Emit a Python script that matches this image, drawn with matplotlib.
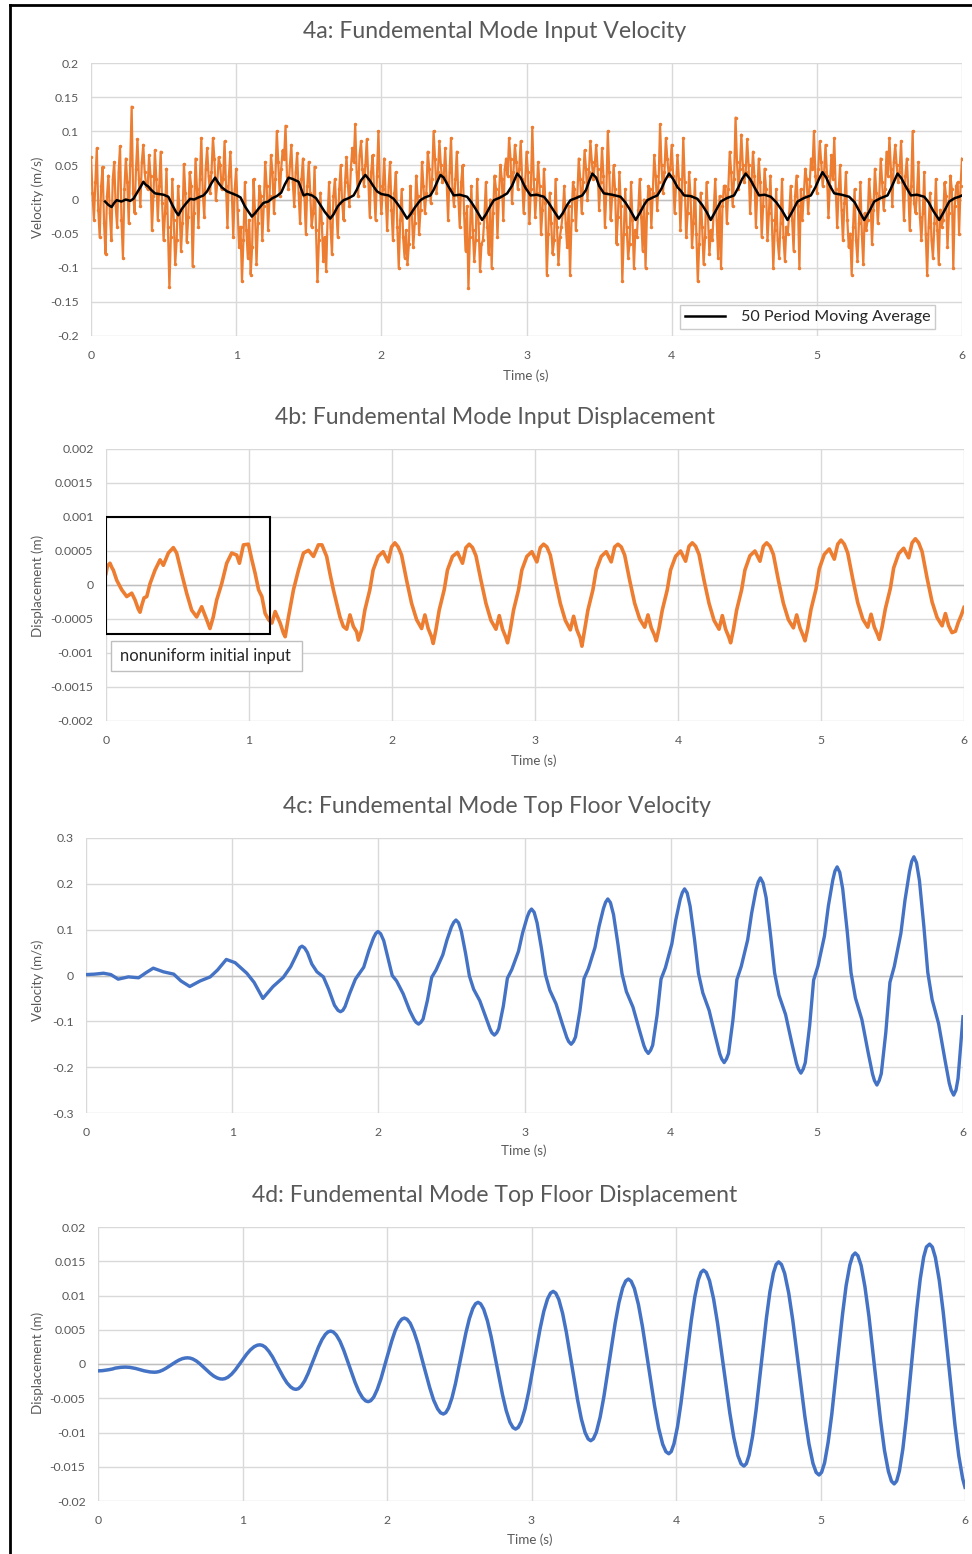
import numpy as np
import matplotlib
matplotlib.use("Agg")
import matplotlib.pyplot as plt
from matplotlib.lines import Line2D
from matplotlib.patches import Rectangle

plt.rcParams['font.family'] = ['Lato', 'DejaVu Sans']
plt.rcParams['axes.unicode_minus'] = False

ORANGE = '#ED7D31'
BLUE = '#4472C4'
GRID = '#D9D9D9'
ZERO = '#BFBFBF'
TEXT = '#595959'

# ---------------- 4a: input velocity (mm/s) ----------------
# Samples every 0.01 s, stored as two interleaved streams:
# the "even" stream at t = 0.00, 0.02, ... and the "odd" stream at t = 0.01, 0.03, ...
input_vel_dt = 0.01
input_vel_even_mm_s = [
    62, -30, 75, -55, 48, -80, 35, -60, 55, -40, 78, -85, 60, -35, 136, -20, 88, -10, 80, 20, 65, -45, 72, -30, 70,
    -60, 45, -128, 30, -95, 20, -75, 52, -62, 40, -98, 60, -40, 90, -25, 75, 10, 90, 0, 62, 15, 85, -40, 70, -55,
    45, -70, -120, 25, -85, -110, 30, -95, 20, -60, 55, -45, 65, -20, 100, 5, 72, 108, 15, 80, -10, 68, -35, 60, -50,
    55, -40, 48, -120, 10, -90, -105, 25, -80, 30, -55, 50, -30, 62, -10, 75, 110, 5, 85, 20, 88, -25, 65, -30, 100,
    -20, 60, -45, 55, -60, 40, -100, 15, -85, -95, 20, -70, 35, -50, 55, -20, 70, -5, 100, 10, 85, 25, 75, -30, 90,
    -10, 70, -40, 50, -75, -130, 20, -90, 30, -105, -60, 25, -80, -100, 35, -55, 50, -30, 60, 90, -5, 80, 15, 85, -20,
    70, -35, 106, -25, 55, -50, 45, -110, 10, -80, 30, -95, -40, 20, -70, -110, 25, -45, 60, -20, 72, 0, 85, 30, 80,
    -15, 75, -40, 100, -30, 50, -65, 40, -120, 15, -85, 25, -100, -55, 30, -75, -100, 20, -40, 65, -15, 110, 10, 90, 35,
    80, -20, 65, -45, 90, -55, 40, -70, 30, -120, 10, -95, 25, -80, -60, 30, -85, -100, 20, -35, 70, -10, 120, 15, 95,
    25, 88, -20, 70, -40, 60, -55, 45, -60, 35, -100, 15, -85, 30, -90, -50, 20, -75, 35, -100, -30, 45, -20, 60, 100,
    10, 85, 20, 80, -25, 65, 90, -40, 50, -60, 40, -70, -110, 15, -90, 25, -95, -45, 30, -65, 45, -35, 60, -15, 70,
    90, -10, 80, 25, 85, -30, 60, -45, 100, -20, 55, -60, 40, -110, 10, -85, 30, -95, -40, 25, -70, 35, -100, 20, -50,
    60,
]
input_vel_odd_mm_s = [
    10, 25, -15, 20, -35, 5, -20, 30, -10, 40, -30, 15, 25, 50, 10, 45, 30, 55, 40, 15, 35, 5, 30, 20, -5,
    -20, -40, -55, -30, -60, -15, -35, 10, -25, 20, -20, 15, 30, 10, 45, 35, 40, 60, 25, 50, 30, 20, 35, 10, 15,
    -15, -40, -60, -45, -30, -70, -20, -35, 5, -10, 20, 5, 40, 30, 55, 45, 60, 35, 50, 25, 40, 10, 30, 5, 20,
    10, -20, -45, -60, -35, -55, -25, -40, 5, -15, 15, -5, 25, 20, 45, 55, 40, 65, 45, 50, 30, 40, 15, 35, 20,
    15, 5, 20, -15, 10, -40, -30, -55, -45, -65, -20, -35, 5, -15, 20, 10, 45, 30, 60, 40, 50, 35, 25, 40, 15,
    30, 5, 25, -20, -10, -55, -45, -60, -35, -65, -25, -40, 0, -20, 15, 5, 30, 45, 35, 60, 40, 55, 45, 30, 20,
    40, 15, 30, 10, 20, -15, -5, -50, -35, -60, -40, -55, -20, -35, -10, -30, 15, 5, 30, 25, 45, 40, 55, 50, 45,
    25, 35, 10, 40, 5, 15, -25, -10, -50, -40, -65, -30, -45, -15, -25, 0, -20, 15, 10, 35, 25, 50, 40, 60, 45,
    35, 20, 30, 10, 25, -20, 5, -35, -50, -65, -40, -55, -25, -45, -15, -30, 5, -10, 20, 15, 40, 30, 55, 45, 50,
    40, 50, 25, 35, 10, 25, -10, 15, -20, -30, -45, -60, -35, -55, -40, -20, -30, 5, -10, 15, 5, 30, 20, 45, 35,
    45, 55, 40, 35, 20, 30, 15, 10, -15, -5, -30, -50, -40, -60, -35, -50, -20, -30, 0, -15, 10, 5, 25, 15, 35,
    45, 55, 50, 40, 25, 35, 15, 20, -5, 10, -25, -20, -50, -40, -60, -35, -45, -15, -30, 5, -20, 15, -10, 25, 20,
]

# 50 period moving average of the input velocity (s, mm/s)
ma_time = [
    0.097, 0.12, 0.142, 0.16, 0.177, 0.21, 0.24, 0.27, 0.292, 0.315, 0.34, 0.361, 0.375, 0.395, 0.415, 0.441,
    0.47, 0.50, 0.533, 0.56, 0.585, 0.602, 0.625, 0.65, 0.683, 0.71, 0.74, 0.775, 0.80, 0.83, 0.855, 0.875,
    0.90, 0.936, 0.97, 1.005, 1.03, 1.06, 1.085, 1.108, 1.13, 1.16, 1.188, 1.22, 1.25, 1.28, 1.31, 1.335,
    1.361, 1.39, 1.41, 1.43, 1.45, 1.464, 1.49, 1.522, 1.55, 1.58, 1.61, 1.648, 1.67, 1.70, 1.72, 1.74,
    1.775, 1.809, 1.83, 1.86, 1.89, 1.92, 1.95, 1.97, 2.00, 2.05, 2.085, 2.11, 2.14, 2.177, 2.20, 2.23,
    2.269, 2.30, 2.338, 2.36, 2.385, 2.407, 2.43, 2.46, 2.499, 2.54, 2.591, 2.62, 2.65, 2.694, 2.72, 2.75,
    2.775, 2.82, 2.867, 2.90, 2.936, 2.96, 2.99, 3.028, 3.07, 3.12, 3.15, 3.18, 3.223, 3.25, 3.28, 3.303,
    3.34, 3.384, 3.41, 3.43, 3.453, 3.48, 3.50, 3.533, 3.59, 3.648, 3.68, 3.71, 3.752, 3.78, 3.81, 3.832,
    3.87, 3.901, 3.93, 3.955, 3.982, 4.01, 4.04, 4.062, 4.085, 4.13, 4.177, 4.21, 4.24, 4.269, 4.30, 4.338,
    4.38, 4.43, 4.46, 4.485, 4.51, 4.54, 4.57, 4.602, 4.64, 4.683, 4.72, 4.76, 4.798, 4.83, 4.867, 4.91,
    4.959, 4.99, 5.015, 5.039, 5.065, 5.09, 5.12, 5.17, 5.223, 5.26, 5.29, 5.326, 5.36, 5.395, 5.44, 5.487,
    5.51, 5.535, 5.556, 5.58, 5.61, 5.648, 5.69, 5.74, 5.77, 5.80, 5.843, 5.875, 5.912, 5.95, 5.98, 6.0,
]
ma_vel_mm_s = [
    -3, -8, -11, -5, -1, -3, 0, -2, 1, 9, 18, 26, 22, 19, 14, 9,
    8, 7, 4, -8, -18, -23, -14, -7, 1, 0, 3, 6, 12, 24, 32, 25,
    18, 12, 9, 6, 3, -10, -18, -25, -20, -12, -5, -3, 2, 5, 10, 22,
    32, 30, 28, 26, 14, 6, 8, 6, 2, -8, -18, -28, -22, -10, -5, -1,
    2, 6, 14, 28, 36, 28, 18, 12, 8, 6, 1, -6, -15, -28, -22, -12,
    -1, 3, 6, 14, 26, 36, 32, 20, 6, 7, 4, -4, -14, -30, -22, -10,
    -1, 3, 9, 20, 38, 32, 18, 6, 7, 4, -4, -14, -28, -20, -8, -1,
    2, 6, 14, 26, 38, 32, 20, 9, 7, 4, -4, -14, -30, -20, -8, -1,
    3, 6, 16, 28, 38, 30, 18, 13, 6, 5, 1, -8, -18, -30, -18, -3,
    2, 6, 18, 30, 38, 30, 18, 6, 7, 4, -4, -16, -30, -18, -3, 2,
    6, 18, 30, 40, 32, 20, 9, 7, 4, -4, -16, -30, -18, -3, 2, 6,
    16, 28, 38, 32, 20, 6, 7, 4, -4, -16, -30, -18, -3, 2, 4, 6,
]

# ---------------- 4b: input displacement (s, mm) ----------------
input_disp_time = [
    0.000, 0.010, 0.028, 0.040, 0.051, 0.075, 0.110, 0.145, 0.180, 0.203, 0.225, 0.238, 0.250, 0.266, 0.285,
    0.308, 0.343, 0.378, 0.401, 0.436, 0.471, 0.494, 0.529, 0.564, 0.599, 0.634, 0.669, 0.704, 0.727, 0.750,
    0.774, 0.809, 0.844, 0.879, 0.914, 0.933, 0.961, 0.996, 1.020, 1.043, 1.067, 1.090, 1.113, 1.137, 1.160,
    1.183, 1.218, 1.241, 1.253, 1.276, 1.311, 1.346, 1.381, 1.416, 1.451, 1.485, 1.510, 1.543, 1.566, 1.590,
    1.613, 1.636, 1.660, 1.683, 1.706, 1.730, 1.753, 1.765, 1.788,
    1.810, 1.845, 1.868, 1.903, 1.938, 1.973, 1.997, 2.020, 2.043, 2.067, 2.102, 2.137, 2.172, 2.207, 2.230,
    2.253, 2.276, 2.288,
    2.307, 2.330, 2.365, 2.388, 2.423, 2.458, 2.493, 2.517, 2.540, 2.563, 2.587, 2.622, 2.657, 2.692, 2.727,
    2.750, 2.773, 2.796, 2.808,
    2.827, 2.850, 2.885, 2.908, 2.943, 2.978, 3.013, 3.037, 3.060, 3.083, 3.107, 3.142, 3.177, 3.212, 3.247,
    3.270, 3.293, 3.316, 3.328,
    3.347, 3.370, 3.405, 3.428, 3.463, 3.498, 3.533, 3.557, 3.580, 3.603, 3.627, 3.662, 3.697, 3.732, 3.767,
    3.790, 3.813, 3.836, 3.848,
    3.867, 3.890, 3.925, 3.948, 3.983, 4.018, 4.053, 4.077, 4.100, 4.123, 4.147, 4.182, 4.217, 4.252, 4.287,
    4.310, 4.333, 4.356, 4.368,
    4.387, 4.410, 4.445, 4.468, 4.503, 4.538, 4.573, 4.597, 4.620, 4.643, 4.667, 4.702, 4.737, 4.772, 4.807,
    4.830, 4.853, 4.876, 4.888,
    4.907, 4.930, 4.965, 4.988, 5.023, 5.058, 5.093, 5.117, 5.140, 5.163, 5.187, 5.222, 5.257, 5.292, 5.327,
    5.350, 5.373, 5.396, 5.408,
    5.427, 5.450, 5.485, 5.508, 5.543, 5.578, 5.613, 5.637, 5.660, 5.683, 5.707, 5.742, 5.777, 5.812, 5.847,
    5.870, 5.893, 5.916, 5.940, 5.960, 5.980, 6.000,
]
input_disp_mm = [
    0.17, 0.28, 0.32, 0.26, 0.22, 0.07, -0.07, -0.17, -0.12, -0.22, -0.35, -0.40, -0.30, -0.19, -0.17,
    0.02, 0.22, 0.37, 0.29, 0.47, 0.55, 0.47, 0.17, -0.12, -0.37, -0.47, -0.32, -0.51, -0.64, -0.47,
    -0.22, 0.02, 0.32, 0.47, 0.44, 0.32, 0.59, 0.60, 0.37, 0.17, -0.07, -0.17, -0.42, -0.51, -0.56,
    -0.39, -0.56, -0.71, -0.76, -0.47, -0.07, 0.22, 0.47, 0.51, 0.42, 0.59, 0.59, 0.42, 0.17, -0.07,
    -0.27, -0.47, -0.61, -0.65, -0.44, -0.61, -0.69, -0.81, -0.66,
    -0.37, -0.07, 0.22, 0.42, 0.49, 0.34, 0.56, 0.62, 0.56, 0.44, 0.07, -0.27, -0.51, -0.64, -0.44,
    -0.64, -0.76, -0.86,
    -0.66, -0.37, -0.07, 0.22, 0.42, 0.48, 0.32, 0.55, 0.60, 0.55, 0.43, 0.07, -0.27, -0.52, -0.65,
    -0.45, -0.65, -0.77, -0.85,
    -0.66, -0.37, -0.07, 0.22, 0.42, 0.49, 0.34, 0.55, 0.60, 0.56, 0.44, 0.07, -0.27, -0.52, -0.66,
    -0.46, -0.66, -0.78, -0.90,
    -0.66, -0.37, -0.07, 0.22, 0.42, 0.49, 0.34, 0.56, 0.60, 0.56, 0.44, 0.07, -0.27, -0.50, -0.62,
    -0.44, -0.63, -0.74, -0.82,
    -0.64, -0.37, -0.07, 0.22, 0.42, 0.50, 0.35, 0.57, 0.62, 0.57, 0.45, 0.07, -0.27, -0.52, -0.65,
    -0.45, -0.65, -0.77, -0.85,
    -0.66, -0.37, -0.07, 0.22, 0.43, 0.50, 0.35, 0.57, 0.62, 0.57, 0.45, 0.07, -0.27, -0.51, -0.63,
    -0.44, -0.63, -0.75, -0.82,
    -0.64, -0.36, -0.06, 0.24, 0.45, 0.53, 0.38, 0.60, 0.66, 0.60, 0.47, 0.09, -0.26, -0.50, -0.62,
    -0.43, -0.62, -0.73, -0.80,
    -0.62, -0.35, -0.05, 0.25, 0.46, 0.54, 0.40, 0.62, 0.68, 0.62, 0.49, 0.10, -0.25, -0.48, -0.60,
    -0.42, -0.60, -0.70, -0.68, -0.55, -0.45, -0.33,
]

# ---------------- 4c: top floor velocity (s, m/s) ----------------
top_vel_time = [
    0.00, 0.06, 0.12, 0.17, 0.22, 0.29, 0.36, 0.41, 0.46, 0.53, 0.60, 0.65, 0.71, 0.78, 0.85, 0.90,
    0.96, 1.02, 1.10, 1.15, 1.21, 1.28, 1.35, 1.40, 1.44, 1.478, 1.515, 1.545, 1.580, 1.624, 1.66, 1.70,
    1.741, 1.772, 1.803, 1.843, 1.900, 1.936, 1.967, 1.998, 2.037, 2.067, 2.095, 2.125, 2.170, 2.214, 2.245,
    2.275, 2.306, 2.336, 2.365, 2.395, 2.441, 2.470, 2.500, 2.531, 2.568, 2.597, 2.623, 2.652, 2.694, 2.736,
    2.765, 2.794, 2.824, 2.855, 2.883, 2.913, 2.959, 2.987, 3.018, 3.048, 3.086, 3.116, 3.143, 3.173, 3.216,
    3.259, 3.289, 3.319, 3.349, 3.379, 3.407, 3.437, 3.482, 3.510, 3.540, 3.570, 3.609, 3.639, 3.667, 3.697,
    3.742, 3.786, 3.817, 3.847, 3.877, 3.907, 3.934, 3.964, 4.008, 4.035, 4.065, 4.095, 4.133, 4.163, 4.190,
    4.220, 4.263, 4.306, 4.336, 4.366, 4.396, 4.426, 4.453, 4.483, 4.527, 4.554, 4.584, 4.614, 4.653, 4.683,
    4.711, 4.741, 4.786, 4.830, 4.861, 4.891, 4.921, 4.951, 4.978, 5.008, 5.052, 5.079, 5.109, 5.139, 5.177,
    5.207, 5.234, 5.264, 5.308, 5.351, 5.381, 5.411, 5.441, 5.472, 5.500, 5.530, 5.575, 5.603, 5.634, 5.664,
    5.702, 5.732, 5.759, 5.789, 5.833, 5.876, 5.906, 5.936, 5.966, 6.000,
    # samples close to each crest and trough
    1.463, 1.496, 1.724, 1.757, 1.983, 2.016, 2.258, 2.291, 2.516, 2.549, 2.777, 2.810,
    3.033, 3.066, 3.302, 3.335, 3.555, 3.588, 3.830, 3.863, 4.080, 4.113, 4.349, 4.382,
    4.599, 4.632, 4.874, 4.907, 5.124, 5.157, 5.394, 5.427, 5.649, 5.682, 5.919, 5.952,
]
top_vel = [
    0.002, 0.003, 0.005, 0.002, -0.008, -0.003, -0.005, 0.006, 0.016, 0.008, 0.003, -0.012, -0.024, -0.012, -0.003, 0.012,
    0.035, 0.028, 0.005, -0.015, -0.050, -0.024, -0.004, 0.019, 0.045, 0.064, 0.050, 0.025, 0.008, -0.003, -0.030, -0.065,
    -0.079, -0.068, -0.040, -0.008, 0.018, 0.055, 0.082, 0.096, 0.076, 0.037, 0.000, -0.012, -0.040, -0.076, -0.096,
    -0.106, -0.095, -0.054, -0.004, 0.012, 0.045, 0.078, 0.106, 0.121, 0.096, 0.048, -0.001, -0.030, -0.055, -0.092,
    -0.117, -0.130, -0.116, -0.067, -0.006, 0.013, 0.053, 0.093, 0.127, 0.145, 0.115, 0.059, 0.002, -0.032, -0.062,
    -0.106, -0.135, -0.150, -0.134, -0.077, -0.007, 0.015, 0.061, 0.107, 0.146, 0.167, 0.133, 0.069, 0.004, -0.035,
    -0.069, -0.119, -0.153, -0.170, -0.152, -0.087, -0.008, 0.017, 0.069, 0.121, 0.166, 0.189, 0.151, 0.079, 0.005,
    -0.038, -0.076, -0.133, -0.171, -0.190, -0.170, -0.097, -0.009, 0.020, 0.078, 0.136, 0.187, 0.213, 0.170, 0.089,
    0.006, -0.043, -0.085, -0.149, -0.192, -0.213, -0.190, -0.109, -0.010, 0.021, 0.086, 0.152, 0.208, 0.237, 0.189,
    0.099, 0.006, -0.049, -0.096, -0.168, -0.215, -0.239, -0.214, -0.124, -0.015, 0.020, 0.092, 0.164, 0.227, 0.259,
    0.207, 0.108, 0.007, -0.053, -0.105, -0.183, -0.235, -0.261, -0.225, -0.090,
    0.061, 0.060, -0.076, -0.076, 0.092, 0.091, -0.102, -0.102, 0.116, 0.115, -0.125, -0.125,
    0.139, 0.138, -0.144, -0.144, 0.160, 0.159, -0.163, -0.163, 0.181, 0.180, -0.182, -0.182,
    0.204, 0.202, -0.204, -0.204, 0.228, 0.225, -0.229, -0.229, 0.249, 0.246, -0.250, -0.250,
]

# ---------------- 4d: top floor displacement (s, mm) ----------------
top_disp_time = [
    0.00, 0.03, 0.07, 0.10, 0.12, 0.16, 0.19, 0.22, 0.26, 0.29, 0.32, 0.36, 0.39, 0.425, 0.47, 0.505,
    0.54, 0.585, 0.62, 0.656, 0.704, 0.74, 0.776, 0.824, 0.86, 0.899, 0.951, 0.99, 1.029, 1.081, 1.12,
    1.158, 1.208, 1.245, 1.283, 1.333, 1.37, 1.406, 1.454, 1.49, 1.526, 1.574, 1.61, 1.649, 1.701, 1.74,
    1.779, 1.831, 1.87, 1.908, 1.958, 1.995, 2.033, 2.083, 2.12, 2.161, 2.215, 2.255, 2.296, 2.35, 2.39,
    2.426, 2.474, 2.51, 2.546, 2.594, 2.63, 2.669, 2.721, 2.76, 2.799, 2.851, 2.89, 2.929, 2.981, 3.02,
    3.059, 3.111, 3.15, 3.189, 3.241, 3.28, 3.319, 3.371, 3.41, 3.449, 3.501, 3.54, 3.579, 3.631, 3.67,
    3.712, 3.768, 3.81, 3.852, 3.908, 3.95, 3.986, 4.034, 4.07, 4.106, 4.154, 4.19, 4.232, 4.288, 4.33,
    4.372, 4.428, 4.47, 4.506, 4.554, 4.59, 4.626, 4.674, 4.71, 4.752, 4.808, 4.85, 4.892, 4.948, 4.99,
    5.028, 5.078, 5.115, 5.153, 5.203, 5.24, 5.281, 5.335, 5.375, 5.416, 5.47, 5.51, 5.546, 5.594, 5.63,
    5.666, 5.714, 5.755,
    5.774, 5.795, 5.822, 5.849, 5.890, 5.930, 5.957, 5.984, 6.000,
    # additional samples on each swing
    0.406, 0.4475, 0.5625, 0.604, 0.637, 0.68, 0.80, 0.843, 0.878, 0.925, 1.055, 1.102,
    1.1375, 1.1825, 1.3075, 1.3525, 1.387, 1.43, 1.55, 1.593, 1.628, 1.675, 1.805, 1.852,
    1.8875, 1.9325, 2.0575, 2.1025, 2.139, 2.1875, 2.3225, 2.371, 2.407, 2.45, 2.57, 2.613,
    2.648, 2.695, 2.825, 2.872, 2.908, 2.955, 3.085, 3.132, 3.168, 3.215, 3.345, 3.392,
    3.428, 3.475, 3.605, 3.652, 3.6896, 3.74, 3.88, 3.930, 3.967, 4.01, 4.13, 4.173,
    4.2096, 4.26, 4.40, 4.450, 4.487, 4.53, 4.65, 4.693, 4.7296, 4.78, 4.92, 4.970,
    5.0075, 5.0525, 5.1775, 5.2225, 5.259, 5.3075, 5.4425, 5.491, 5.527, 5.57, 5.69, 5.733,
]
top_disp_mm = [
    -1.00, -0.97, -0.85, -0.73, -0.60, -0.48, -0.45, -0.49, -0.65, -0.83, -1.00, -1.16, -1.20, -1.09, -0.63, -0.15,
    0.33, 0.79, 0.90, 0.73, 0.05, -0.65, -1.35, -2.03, -2.20, -1.93, -0.84, 0.30, 1.44, 2.53, 2.80,
    2.45, 1.03, -0.45, -1.93, -3.35, -3.70, -3.24, -1.38, 0.55, 2.48, 4.34, 4.80, 4.24, 1.99, -0.35,
    -2.69, -4.94, -5.50, -4.84, -2.17, 0.60, 3.37, 6.04, 6.70, 5.94, 2.88, -0.30, -3.48, -6.54, -7.30,
    -6.42, -2.85, 0.85, 4.55, 8.12, 9.00, 8.00, 3.95, -0.25, -4.45, -8.50, -9.50, -8.42, -4.01, 0.55,
    5.11, 9.51, 10.60, 9.42, 4.65, -0.30, -5.25, -10.02, -11.20, -9.93, -4.76, 0.60, 5.96, 11.13, 12.40,
    11.02, 5.44, -0.35, -6.14, -11.72, -13.10, -11.65, -5.78, 0.30, 6.38, 12.25, 13.70, 12.16, 5.89, -0.60,
    -7.09, -13.36, -14.90, -13.29, -6.76, 0.00, 6.76, 13.29, 14.90, 13.22, 6.41, -0.65, -7.71, -14.52, -16.20,
    -14.45, -7.35, 0.00, 7.35, 14.45, 16.20, 14.38, 7.00, -0.65, -8.30, -15.68, -17.50, -15.61, -7.94, 0.00,
    7.94, 15.61, 17.50,
    17.07, 15.55, 12.21, 7.62, -0.60, -8.82, -13.41, -16.74, -18.00,
    -1.175, -0.893, 0.593, 0.875, 0.863, 0.447, -1.747, -2.163, -2.14, -1.47, 2.07, 2.74,
    2.72, 1.85, -2.75, -3.62, -3.60, -2.46, 3.56, 4.70, 4.68, 3.30, -4.00, -5.38,
    -5.35, -3.72, 4.92, 6.55, 6.53, 4.66, -5.26, -7.13, -7.10, -4.92, 6.62, 8.80,
    8.78, 6.30, -6.80, -9.28, -9.26, -6.57, 7.67, 10.36, 10.34, 7.42, -8.02, -10.94,
    -10.92, -7.75, 8.95, 12.12, 12.09, 8.68, -9.38, -12.79, -12.78, -9.19, 9.79, 13.38,
    13.36, 9.52, -10.72, -14.56, -14.54, -10.55, 10.55, 14.54, 14.53, 10.36, -11.66, -15.83,
    -15.81, -11.47, 11.47, 15.81, 15.80, 11.28, -12.58, -17.10, -17.08, -12.39, 12.39, 17.08,
]

# ---------------- figure ----------------
W, H = 972, 1554
fig = plt.figure(figsize=(W / 100, H / 100), dpi=100)
fig.patch.set_facecolor('white')


def px_axes(left, top, right, bottom):
    return fig.add_axes([left / W, 1 - bottom / H, (right - left) / W, (bottom - top) / H])


def time_ordered(t, v):
    t = np.asarray(t, dtype=float)
    v = np.asarray(v, dtype=float)
    order = np.argsort(t, kind='stable')
    return t[order], v[order]


def style(ax, yticks, ylabels):
    ax.set_xlim(0, 6)
    ax.set_ylim(yticks[0], yticks[-1])
    ax.set_xticks(range(7))
    ax.set_xticklabels([str(i) for i in range(7)])
    ax.set_yticks(yticks)
    ax.set_yticklabels(ylabels)
    for s in ax.spines.values():
        s.set_visible(False)
    ax.grid(True, color=GRID, lw=1.0)
    ax.set_axisbelow(True)
    ax.axhline(0, color=ZERO, lw=1.0, zorder=1)
    ax.tick_params(length=0, labelsize=8.8, labelcolor=TEXT)
    ax.tick_params(axis='x', pad=10)
    ax.tick_params(axis='y', pad=9)


def fig_text(x, y, s, size, rotation=0):
    fig.text(x / W, 1 - y / H, s, ha='center', va='center', fontsize=size,
             color=TEXT, rotation=rotation)


TITLE_SIZE = 16.6
LABEL_SIZE = 9.6

# 4a
ax1 = px_axes(91, 63, 962, 336)
vel_in = np.empty(len(input_vel_even_mm_s) + len(input_vel_odd_mm_s))
vel_in[0::2] = input_vel_even_mm_s
vel_in[1::2] = input_vel_odd_mm_s
t_in = np.arange(len(vel_in)) * input_vel_dt
ax1.plot(t_in, vel_in / 1000.0, color=ORANGE, lw=1.6, marker='.', ms=3.0, zorder=3)
ma_line, = ax1.plot(ma_time, np.array(ma_vel_mm_s) / 1000.0, color='black', lw=1.8, zorder=4)
style(ax1, [-0.2, -0.15, -0.1, -0.05, 0, 0.05, 0.1, 0.15, 0.2],
      ['-0.2', '-0.15', '-0.1', '-0.05', '0', '0.05', '0.1', '0.15', '0.2'])
leg = ax1.legend([ma_line], ['50 Period Moving Average'], loc='lower right',
                 bbox_to_anchor=(0.9695, 0.0256), frameon=True, fancybox=False,
                 fontsize=11.6, handlelength=2.5, handletextpad=1.0, borderpad=0.3,
                 borderaxespad=0.0)
leg.get_frame().set_edgecolor(ZERO)
leg.get_frame().set_linewidth(1.0)
for txt in leg.get_texts():
    txt.set_color('#262626')
fig_text(495, 31, '4a: Fundemental Mode Input Velocity', TITLE_SIZE)
fig_text(38, 197, 'Velocity (m/s)', LABEL_SIZE, rotation=90)
fig_text(526, 376, 'Time (s)', LABEL_SIZE)

# 4b
ax2 = px_axes(106, 449, 964, 721)
ax2.plot(input_disp_time, np.array(input_disp_mm) / 1000.0, color=ORANGE, lw=2.6,
         solid_joinstyle='round', zorder=3)
style(ax2, [-0.002, -0.0015, -0.001, -0.0005, 0, 0.0005, 0.001, 0.0015, 0.002],
      ['-0.002', '-0.0015', '-0.001', '-0.0005', '0', '0.0005', '0.001', '0.0015', '0.002'])
ax2.add_patch(Rectangle((0.0, -0.00072), 1.147, 0.00172, fill=False,
                        edgecolor='black', lw=1.5, zorder=5))
ax2.add_patch(Rectangle((0.035, -0.00126), 1.335, 0.00044, facecolor='white',
                        edgecolor=ZERO, lw=1.0, zorder=5))
ax2.text(0.098, -0.00104, 'nonuniform initial input', ha='left', va='center',
         fontsize=11.9, color='#262626', zorder=6)
fig_text(495, 417, '4b: Fundemental Mode Input Displacement', TITLE_SIZE)
fig_text(38, 586, 'Displacement (m)', LABEL_SIZE, rotation=90)
fig_text(534, 761, 'Time (s)', LABEL_SIZE)

# 4c
ax3 = px_axes(86, 838, 963, 1113)
tv, vv = time_ordered(top_vel_time, top_vel)
ax3.plot(tv, vv, color=BLUE, lw=2.4, solid_joinstyle='round', zorder=3)
style(ax3, [-0.3, -0.2, -0.1, 0, 0.1, 0.2, 0.3],
      ['-0.3', '-0.2', '-0.1', '0', '0.1', '0.2', '0.3'])
fig_text(497, 807, '4c: Fundemental Mode Top Floor Velocity', TITLE_SIZE)
fig_text(38, 980, 'Velocity (m/s)', LABEL_SIZE, rotation=90)
fig_text(524, 1151, 'Time (s)', LABEL_SIZE)

# 4d
ax4 = px_axes(98, 1227, 965, 1501)
td, dd = time_ordered(top_disp_time, top_disp_mm)
ax4.plot(td, dd / 1000.0, color=BLUE, lw=2.5, solid_joinstyle='round', zorder=3)
style(ax4, [-0.02, -0.015, -0.01, -0.005, 0, 0.005, 0.01, 0.015, 0.02],
      ['-0.02', '-0.015', '-0.01', '-0.005', '0', '0.005', '0.01', '0.015', '0.02'])
fig_text(495, 1195, '4d: Fundemental Mode Top Floor Displacement', TITLE_SIZE)
fig_text(38, 1363, 'Displacement (m)', LABEL_SIZE, rotation=90)
fig_text(530, 1540, 'Time (s)', LABEL_SIZE)

# outer frame (left and top edges)
fig.add_artist(Line2D([10 / W, 10 / W], [0, 1 - 5 / H], color='black', lw=2.0,
                      transform=fig.transFigure))
fig.add_artist(Line2D([10 / W, 1], [1 - 5 / H, 1 - 5 / H], color='black', lw=2.0,
                      transform=fig.transFigure))

fig.savefig('out.png', dpi=100)
